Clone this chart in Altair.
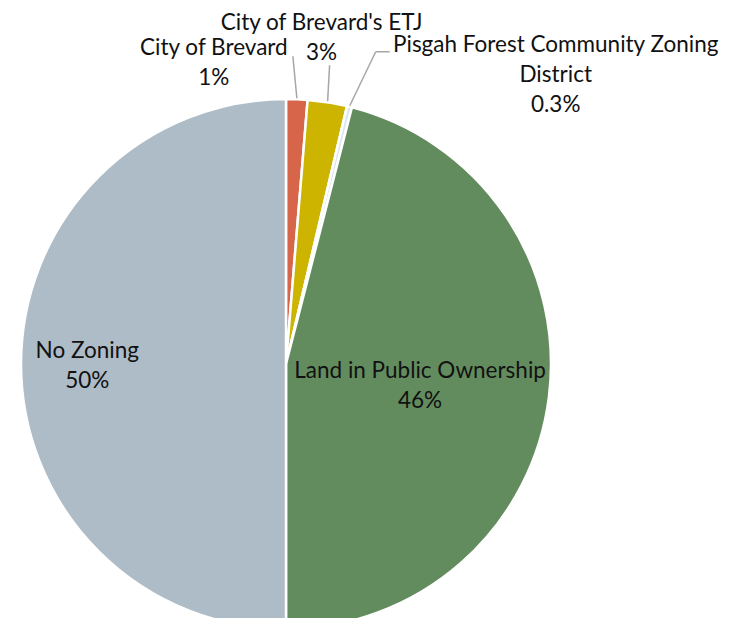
import math
import altair as alt
import pandas as pd

# ---- data ----
categories = ["City of Brevard", "City of Brevard's ETJ", "Pisgah Forest Community Zoning District",
              "Land in Public Ownership", "No Zoning"]
values = [1.3, 2.4, 0.3, 46.0, 50.0]
pct_labels = ["1%", "3%", "0.3%", "46%", "50%"]
colors = ["#D6654A", "#CDB400", "#DCE6EE", "#638C5E", "#ADBCC6"]

# ---- layout (pixels inside the view) ----
W, H = 715, 610
CX, CY, R = 278, 356, 265
FONT = "Lato"
FS = 22.5
LH = 30
TXT = "#111111"

df = pd.DataFrame({"cat": categories, "val": values, "ord": list(range(len(values)))})

total = sum(values)
cum = []
c = 0
for v in values:
    cum.append((c, c + v))
    c += v


def polar(frac, r):
    a = 2 * math.pi * frac
    return CX + r * math.sin(a), CY - r * math.cos(a)


def mid(i):
    s, e = cum[i]
    return (s + e) / 2 / total

pie = alt.Chart(df).mark_arc(radius=R, stroke="white", strokeWidth=2.5).encode(
    theta=alt.Theta("val:Q", stack=True),
    order=alt.Order("ord:Q"),
    color=alt.Color("cat:N", scale=alt.Scale(domain=categories, range=colors), legend=None),
    x=alt.value(CX), y=alt.value(CY),
)

xs = alt.Scale(domain=[0, W], range=[0, W])
ys = alt.Scale(domain=[0, H], range=[0, H])

# leader lines: start on the slice rim at the slice middle, end near the label (layout offsets)
leader_end_offsets = {0: (-4, -42), 1: (2, -36), 2: (26, -54)}
segs = []
for i, (dx, dy) in leader_end_offsets.items():
    x0, y0 = polar(mid(i), R + 1)
    segs.append({"x": x0, "y": y0, "x2": x0 + dx, "y2": y0 + dy})
# horizontal tail for the Pisgah label
p = segs[-1]
segs.append({"x": p["x2"], "y": p["y2"], "x2": p["x2"] + 14, "y2": p["y2"]})
seg_df = pd.DataFrame(segs)

leaders = alt.Chart(seg_df).mark_rule(color="#A6A6A6", strokeWidth=1.5).encode(
    x=alt.X("x:Q", scale=xs, axis=None), y=alt.Y("y:Q", scale=ys, axis=None),
    x2="x2:Q", y2="y2:Q",
)

# labels (y = first line's middle)
lab = []
for i, rf, dy in ((3, 0.51, 5), (4, 0.75, 2)):
    x, y = polar(mid(i), R * rf)
    lab.append({"x": x, "y": y - LH / 2 + dy, "t": categories[i] + "\n" + pct_labels[i]})
ends = [(s["x2"], s["y2"]) for s in segs]
lab.append({"x": ends[0][0] - 79, "y": ends[0][1] - 8, "t": categories[0] + "\n" + pct_labels[0]})
lab.append({"x": ends[1][0] - 8, "y": ends[1][1] - 42, "t": categories[1] + "\n" + pct_labels[1]})
lab.append({"x": ends[3][0] + 166, "y": ends[3][1] - 7,
            "t": "Pisgah Forest Community Zoning\nDistrict\n" + pct_labels[2]})
lab_df = pd.DataFrame(lab)

labels = alt.Chart(lab_df).mark_text(
    font=FONT, fontSize=FS, color=TXT, align="center", baseline="middle", lineBreak="\n", lineHeight=LH
).encode(
    x=alt.X("x:Q", scale=xs, axis=None), y=alt.Y("y:Q", scale=ys, axis=None), text="t:N"
)

chart = alt.layer(pie, leaders, labels).properties(
    width=W, height=H, autosize=alt.AutoSizeParams(type="none"), padding=0
).configure_view(stroke=None)

chart.save("out.html", embed_options={"renderer": "svg", "actions": False})
